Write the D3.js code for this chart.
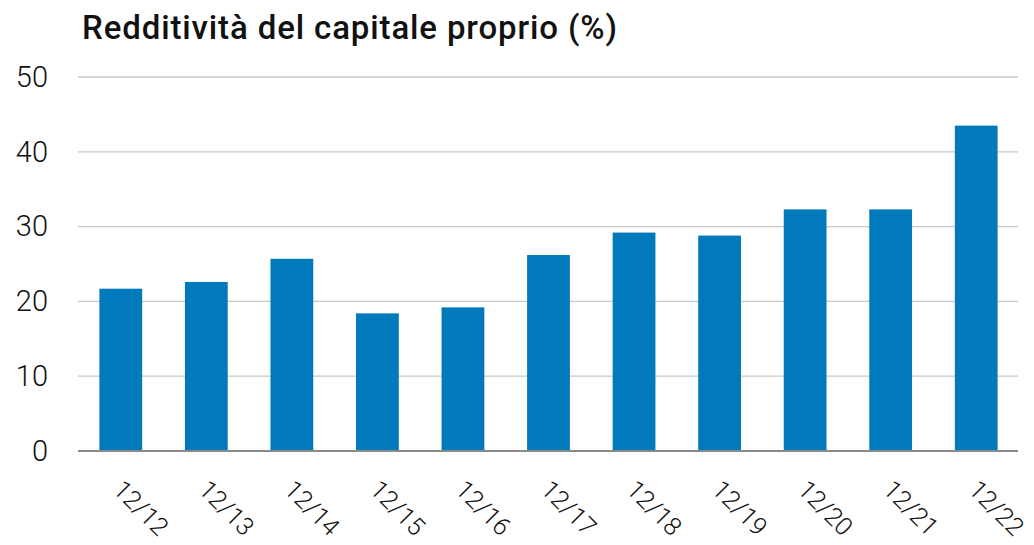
<!DOCTYPE html>
<html><head><meta charset="utf-8">
<script src="https://cdn.jsdelivr.net/npm/d3@7"></script>
<style>body{margin:0;background:#fff}svg{display:block}</style>
</head><body>
<script>
const categories = ["12/12","12/13","12/14","12/15","12/16","12/17","12/18","12/19","12/20","12/21","12/22"];
const values = [21.7, 22.6, 25.7, 18.4, 19.2, 26.2, 29.2, 28.8, 32.3, 32.3, 43.5];
const yTicks = [0,10,20,30,40,50];
const title = "Redditività del capitale proprio (%)";

const W = 1034, H = 545;
const svg = d3.select("body").append("svg").attr("width", W).attr("height", H);

const x = d3.scaleBand().domain(categories).range([78, 1019]).paddingInner(0.5).paddingOuter(0.25);
const y = d3.scaleLinear().domain([0, 50]).range([451, 77]);

svg.append("text").attr("x", 82).attr("y", 39)
  .attr("font-family", "Roboto").attr("font-weight", 500).attr("font-size", 33)
  .attr("textLength", 535).attr("lengthAdjust", "spacing")
  .attr("fill", "#111").text(title);

const grid = svg.append("g");
grid.selectAll("line").data(yTicks.filter(d => d > 0)).join("line")
  .attr("x1", 78).attr("x2", 1018)
  .attr("y1", d => y(d)).attr("y2", d => y(d))
  .attr("stroke", "#c8c8c8").attr("stroke-width", 1.3);

const yAxis = svg.append("g").attr("transform", "translate(48,0)")
  .call(d3.axisLeft(y).tickValues(yTicks).tickSize(0).tickPadding(0));
yAxis.select(".domain").remove();
yAxis.selectAll("text").attr("font-family", "Roboto").attr("font-weight", 300)
  .attr("font-size", 29).attr("fill", "#111");

svg.append("g").selectAll("rect").data(values).join("rect")
  .attr("x", (d, i) => x(categories[i]))
  .attr("width", x.bandwidth())
  .attr("y", d => y(d))
  .attr("height", d => y(0) - y(d))
  .attr("fill", "#007ABA");

svg.append("line").attr("x1", 78).attr("x2", 1018).attr("y1", y(0)).attr("y2", y(0))
  .attr("stroke", "#8a8a8a").attr("stroke-width", 2);

const xAxis = svg.append("g").attr("transform", `translate(0,${y(0)})`)
  .call(d3.axisBottom(x).tickSize(0).tickPadding(0));
xAxis.select(".domain").remove();
xAxis.selectAll("text")
  .attr("font-family", "Roboto").attr("font-weight", 300).attr("font-size", 25).attr("fill", "#111")
  .attr("text-anchor", "start").attr("dy", null).attr("y", 0)
  .attr("transform", "translate(-9,40) rotate(45)");
</script>
</body></html>
